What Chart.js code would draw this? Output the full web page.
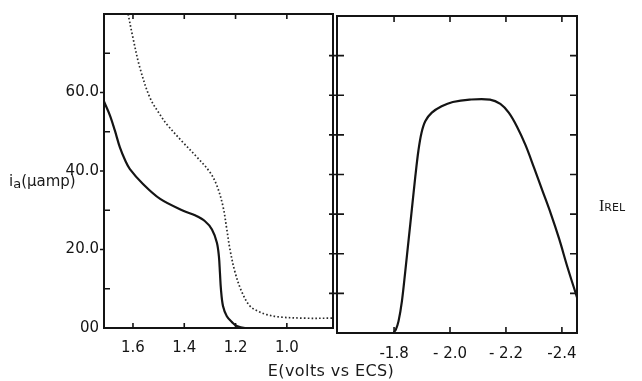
<!DOCTYPE html>
<html><head><meta charset="utf-8">
<script src="https://cdn.jsdelivr.net/npm/chart.js@4.4.1/dist/chart.umd.min.js"></script>
<style>
html,body{margin:0;padding:0;background:#fff;}
#wrap{position:relative;width:642px;height:381px;overflow:hidden;background:#fff;font-family:"DejaVu Sans",sans-serif;color:#1a1a1a;}
canvas{position:absolute;left:0;top:0;}
.t{position:absolute;white-space:nowrap;line-height:1;}
</style></head><body>
<div id="wrap">
<canvas id="cL" width="642" height="381"></canvas>
<canvas id="cR" width="642" height="381"></canvas>
<div class="t" style="left:9px;top:174px;font-size:15px;">i<span style="font-size:13px;position:relative;top:2px">a</span>(µamp)</div>
<div class="t" style="left:331px;top:363px;font-size:16px;transform:translateX(-50%);letter-spacing:0.4px;">E(volts vs ECS)</div>
<div class="t" style="left:599px;top:198px;"><span style="font-family:'Liberation Serif',serif;font-size:16px">I</span><span style="font-size:11px">REL</span></div>
</div>
<script>
// ---- Left panel (anodic current, µamp vs E) ----
const leftSolidE = [1.713,1.690,1.671,1.651,1.631,1.612,1.561,1.494,1.404,1.358,1.319,1.292,1.273,1.265,1.261,1.257,1.249,1.234,1.214,1.195,1.163,1.100,0.820];
const leftSolidI = [57.7,54.2,50.4,46.0,42.8,40.5,36.7,32.9,29.9,28.7,27.2,25.1,21.8,18.3,14.2,9.9,5.6,3.0,1.5,0.5,0.0,0.0,0.0];
const leftDotE = [1.619,1.600,1.573,1.534,1.495,1.464,1.405,1.350,1.300,1.273,1.249,1.234,1.222,1.202,1.175,1.144,1.110,1.078,1.027,0.930,0.820];
const leftDotI = [80.0,73.9,66.3,58.7,54.4,51.6,47.3,43.5,39.7,36.3,31.0,25.1,20.1,14.2,9.1,5.6,4.2,3.4,2.8,2.5,2.5];
const xTicksLeft = [1.6,1.4,1.2,1.0];
const xTickLabelsLeft = ["1.6","1.4","1.2","1.0"];
const yTicksLeft = [0,20,40,60];
const yTickLabelsLeft = ["00","20.0","40.0","60.0"];
const yMinorLeft = [10,30,50,70];

// ---- Right panel (I_REL vs E) ----
const rightE = [-1.797,-1.806,-1.816,-1.828,-1.840,-1.852,-1.864,-1.876,-1.887,-1.898,-1.912,-1.935,-1.970,-2.010,-2.070,-2.143,-2.180,-2.210,-2.240,-2.270,-2.300,-2.330,-2.360,-2.390,-2.420,-2.454];
const rightI = [0.0,0.8,3.0,8.0,15.5,23.5,31.5,39.5,46.0,50.5,53.5,55.6,57.2,58.3,58.9,58.9,57.8,55.6,52.0,47.4,41.8,36.0,30.2,23.8,16.6,9.0];
const xTicksRight = [-1.8,-2.0,-2.2,-2.4];
const xTickLabelsRight = ["-1.8","- 2.0","- 2.2","-2.4"];
const yTicksRight = [10,20,30,40,50,60,70];

const INK = '#141414';
const tickFont = {family:'DejaVu Sans', size:15};

const frameLeft = {
  id:'frameLeft',
  afterDatasetsDraw(chart){
    const {ctx, chartArea:a, scales:{x,y}} = chart;
    ctx.save();
    ctx.strokeStyle = INK; ctx.lineWidth = 2;
    ctx.strokeRect(a.left, a.top, a.right-a.left, a.bottom-a.top);
    ctx.lineWidth = 1.6;
    ctx.beginPath();
    xTicksLeft.forEach(v=>{const p=x.getPixelForValue(v);
      ctx.moveTo(p,a.bottom); ctx.lineTo(p,a.bottom-5);
      ctx.moveTo(p,a.top); ctx.lineTo(p,a.top+5);});
    yMinorLeft.forEach(v=>{const p=y.getPixelForValue(v);
      ctx.moveTo(a.left,p); ctx.lineTo(a.left+6,p);});
    yTicksLeft.forEach(v=>{ if(v===0) return; const p=y.getPixelForValue(v);
      ctx.moveTo(a.left-4,p); ctx.lineTo(a.left,p);});
    ctx.stroke();
    ctx.restore();
  }
};
const frameRight = {
  id:'frameRight',
  afterDatasetsDraw(chart){
    const {ctx, chartArea:a, scales:{x,y}} = chart;
    ctx.save();
    ctx.strokeStyle = INK; ctx.lineWidth = 2;
    ctx.strokeRect(a.left, a.top, a.right-a.left, a.bottom-a.top);
    ctx.lineWidth = 1.6;
    ctx.beginPath();
    xTicksRight.forEach(v=>{const p=x.getPixelForValue(v);
      ctx.moveTo(p,a.bottom); ctx.lineTo(p,a.bottom-6);
      ctx.moveTo(p,a.top); ctx.lineTo(p,a.top+6);});
    yTicksRight.forEach(v=>{const p=y.getPixelForValue(v);
      ctx.moveTo(a.right,p); ctx.lineTo(a.right-7,p);
      ctx.moveTo(a.left-8,p); ctx.lineTo(a.left+7,p);});
    ctx.stroke();
    ctx.restore();
  }
};

new Chart(document.getElementById('cL'), {
  type:'line',
  data:{datasets:[
    {data: leftSolidE.map((e,i)=>({x:e,y:leftSolidI[i]})), borderColor:INK, borderWidth:2.2, pointRadius:0, tension:0.35, fill:false},
    {data: leftDotE.map((e,i)=>({x:e,y:leftDotI[i]})), borderColor:'#2a2a2a', borderWidth:1.7, borderDash:[1.6,2.2], borderCapStyle:'butt', pointRadius:0, tension:0.35, fill:false}
  ]},
  options:{
    responsive:false, animation:false, devicePixelRatio:1,
    layout:{padding:{left:0,right:309,top:13,bottom:0}},
    plugins:{legend:{display:false}, tooltip:{enabled:false}},
    scales:{
      x:{type:'linear', reverse:true, min:0.82, max:1.713,
        grid:{display:false, drawTicks:false}, border:{display:false},
        afterBuildTicks:s=>{s.ticks = xTicksLeft.map(v=>({value:v}));},
        afterFit:s=>{s.height = 53;},
        ticks:{padding:11, color:INK, font:tickFont, autoSkip:false, maxRotation:0,
          callback:(v,i)=>xTickLabelsLeft[i]}},
      y:{type:'linear', min:0, max:80,
        grid:{display:false, drawTicks:false}, border:{display:false},
        afterBuildTicks:s=>{s.ticks = yTicksLeft.map(v=>({value:v}));},
        afterFit:s=>{s.width = 104;},
        ticks:{padding:5, color:INK, font:tickFont, autoSkip:false,
          callback:(v,i)=>yTickLabelsLeft[i]}}
    }
  },
  plugins:[frameLeft]
});

new Chart(document.getElementById('cR'), {
  type:'line',
  data:{datasets:[
    {data: rightE.map((e,i)=>({x:e,y:rightI[i]})), borderColor:INK, borderWidth:2.2, pointRadius:0, tension:0.35, fill:false}
  ]},
  options:{
    responsive:false, animation:false, devicePixelRatio:1,
    layout:{padding:{left:337,right:65,top:16,bottom:0}},
    plugins:{legend:{display:false}, tooltip:{enabled:false}},
    scales:{
      x:{type:'linear', reverse:true, min:-2.454, max:-1.596,
        grid:{display:false, drawTicks:false}, border:{display:false},
        afterBuildTicks:s=>{s.ticks = xTicksRight.map(v=>({value:v}));},
        afterFit:s=>{s.height = 48;},
        ticks:{padding:12, color:INK, font:tickFont, autoSkip:false, maxRotation:0,
          callback:(v,i)=>xTickLabelsRight[i]}},
      y:{type:'linear', min:0, max:80, display:false}
    }
  },
  plugins:[frameRight]
});
</script>
</body></html>
